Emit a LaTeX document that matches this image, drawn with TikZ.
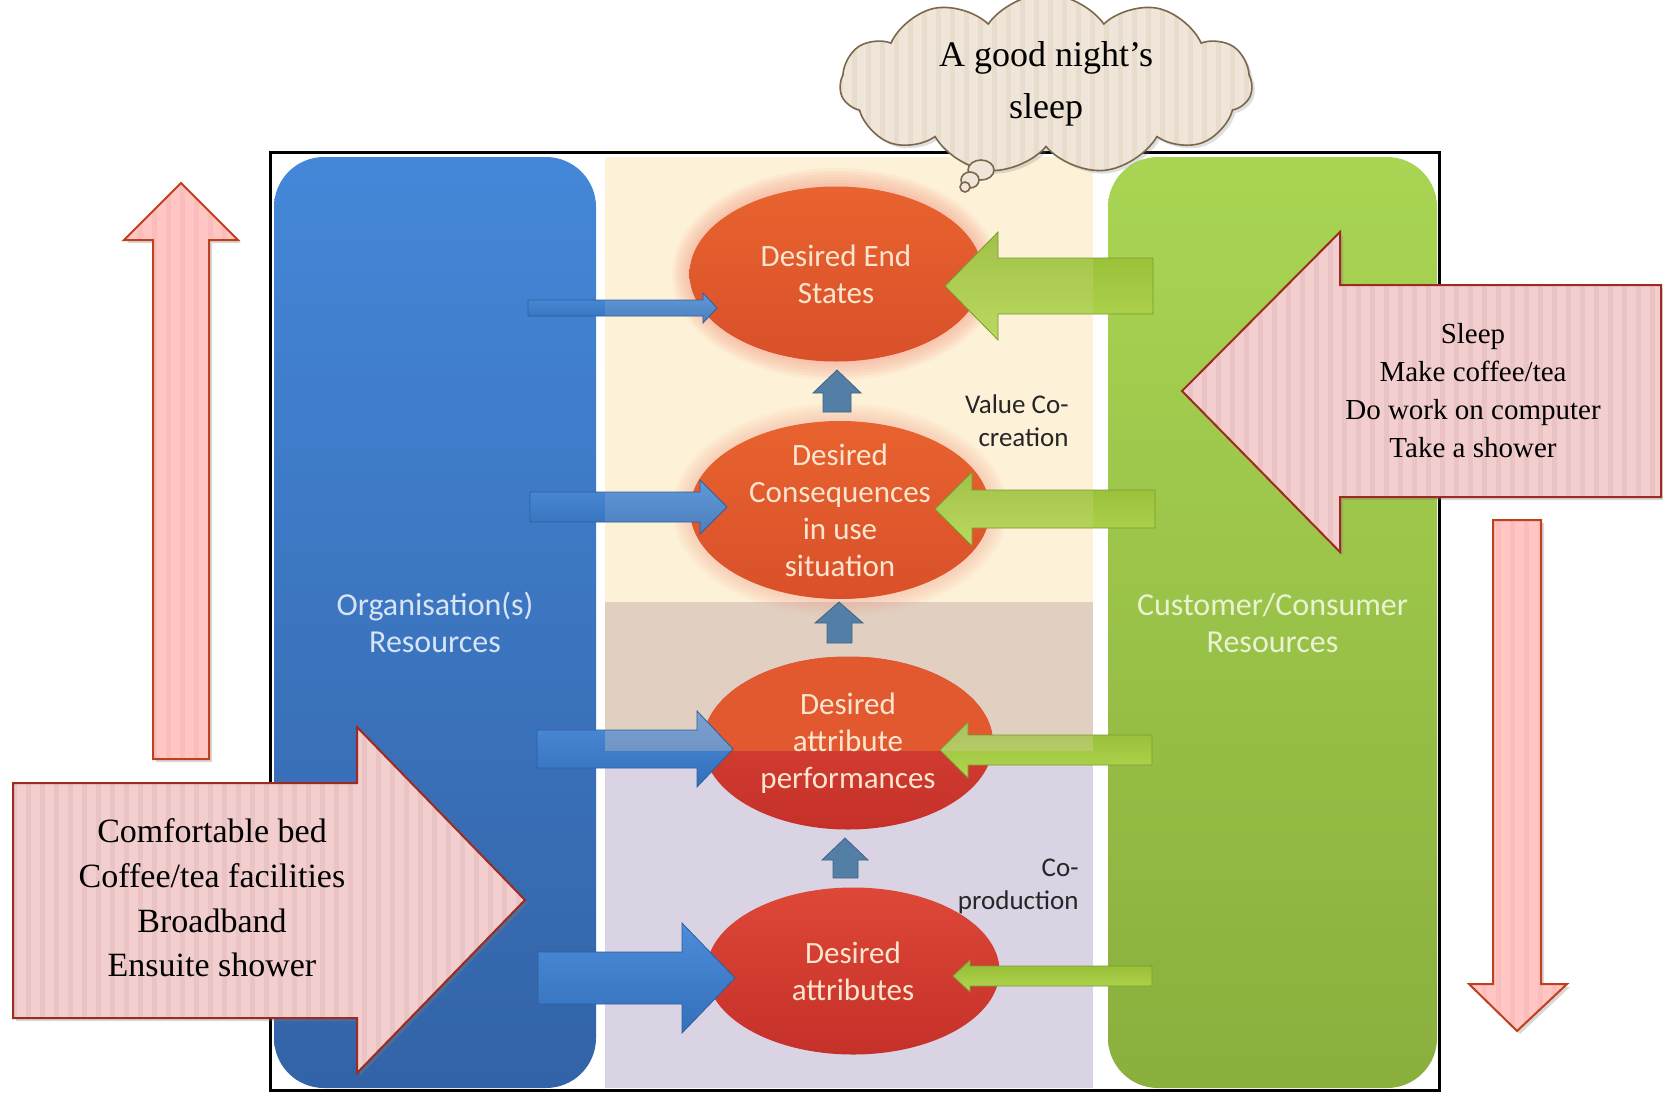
\documentclass[tikz,border=0pt]{standalone}
\usepackage{fontspec}
\setmainfont{Liberation Serif}
\newfontfamily\calibri{Carlito}
\usetikzlibrary{shapes.geometric,shapes.symbols,shadows,patterns.meta}

\definecolor{orgtop}{HTML}{4487D8}
\definecolor{orgbot}{HTML}{3363A7}
\definecolor{custtop}{HTML}{A9D553}
\definecolor{custbot}{HTML}{8AAF3D}
\definecolor{creamc}{HTML}{FDF2D8}
\definecolor{tanc}{HTML}{E1D0C1}
\definecolor{lavc}{HTML}{DAD3E4}
\definecolor{goalorg}{HTML}{E2582F}
\definecolor{goalhitop}{HTML}{E8632F}
\definecolor{goalhibot}{HTML}{D9502A}
\definecolor{goallotop}{HTML}{DE4838}
\definecolor{goallobot}{HTML}{C53029}
\definecolor{glowc}{HTML}{F2907A}
\definecolor{goaltext}{HTML}{FCE5CF}
\definecolor{barrtop}{HTML}{4C8CD9}
\definecolor{barrbot}{HTML}{3470BA}
\definecolor{barredge}{HTML}{2C5F9E}
\definecolor{garrtop}{HTML}{94BB34}
\definecolor{garrbot}{HTML}{B2D650}
\definecolor{garredge}{HTML}{7A9B2E}
\definecolor{stemblue}{HTML}{537EA6}
\definecolor{pinkfill}{HTML}{F2CFCE}
\definecolor{pinkline}{HTML}{EAC4C4}
\definecolor{pinkedge}{HTML}{9E2B1F}
\definecolor{rosefill}{HTML}{FFC6C4}
\definecolor{roseline}{HTML}{FABDBB}
\definecolor{roseedge}{HTML}{C0401D}
\definecolor{cloudfill}{HTML}{EFE5D8}
\definecolor{cloudline}{HTML}{E8DCCD}
\definecolor{cloudedge}{HTML}{7B674C}
\definecolor{orgtext}{HTML}{D6E4F6}
\definecolor{custtext}{HTML}{E8F3D3}

\begin{document}
\begin{tikzpicture}[x=0.5pt,y=-0.5pt,
  col/.style={rectangle,rounded corners=25pt,inner sep=0pt,minimum height=465.5pt,align=center,font=\calibri\fontsize{16}{18.5}\selectfont},
  goal/.style={ellipse,inner xsep=0pt,inner ysep=-12pt,align=center,text=goaltext,font=\calibri\fontsize{15.5}{18.5}\selectfont},
  goalhi/.style={goal,top color=goalhitop,bottom color=goalhibot},
  goallo/.style={goal,top color=goallotop,bottom color=goallobot},
  tint/.style={path picture={\fill[creamc,opacity=.12] (605,157) rectangle (1093,602);
    \fill[tanc,opacity=.3] (605,602) rectangle (1093,751);}},
  barr/.style={top color=barrtop,bottom color=barrbot,draw=barredge,line width=.4pt,tint},
  garr/.style={top color=garrtop,bottom color=garrbot,draw=garredge,line width=.4pt,tint},
  stem/.style={fill=stemblue,draw=stemblue!80!black,line width=.4pt},
  zone/.style={font=\calibri\fontsize{13.5}{16.5}\selectfont,text=black!85,align=right,anchor=east,inner sep=0pt},
  bigarr/.style={draw=pinkedge,line width=1pt,drop shadow={opacity=.3,shadow xshift=1.5pt,shadow yshift=-1.5pt},
    preaction={fill=pinkfill},pattern={Lines[angle=90,distance=7pt,line width=2.5pt]},pattern color=pinkline},
  thinarr/.style={draw=roseedge,line width=1pt,drop shadow={opacity=.3,shadow xshift=1.5pt,shadow yshift=-1.5pt},
    preaction={fill=rosefill},pattern={Lines[angle=90,distance=7pt,line width=2.5pt]},pattern color=roseline},
  list/.style={align=center,font=\fontsize{17}{22.3}\selectfont,inner sep=0pt},
  puff/.style={draw=cloudedge,line width=.8pt,fill=cloudfill}]
\useasboundingbox[fill=white] (0,0) rectangle (1663,1092);
% frame and the three bands
\draw[line width=1.5pt,fill=white] (270,152) rectangle (1439,1090);
\fill[creamc] (605,157) rectangle (1093,602);
\fill[tanc] (605,602) rectangle (1093,751);
\fill[lavc] (605,751) rectangle (1093,1088);
% resource columns
\node[col,minimum width=161pt,top color=orgtop,bottom color=orgbot,text=orgtext] (org) at (435,622.5) {Organisation(s)\\Resources};
\node[col,minimum width=164.5pt,top color=custtop,bottom color=custbot,text=custtext] (cust) at (1272.5,622.5) {Customer/Consumer\\Resources};
% soft glow behind the upper goals
\foreach \g in {18,15,12,9,6,3} {
  \fill[glowc,opacity=.09] (836,274) ellipse [x radius=146+\g,y radius=88+\g];
  \fill[glowc,opacity=.06] (840,510) ellipse [x radius=150+\g,y radius=89+\g];
}
% goal hierarchy
\node[goalhi,minimum width=146.5pt,minimum height=87.5pt] (end) at (836,274) {Desired End\\States};
\node[goalhi,minimum width=150pt,minimum height=89pt] (cons) at (840,510) {Desired\\Consequences\\in use\\situation};
\node[goallo,minimum width=145pt,minimum height=86.5pt,
  path picture={\fill[goalorg] (path picture bounding box.north west) rectangle ([yshift=-4pt]path picture bounding box.east);}]
  (perf) at (848,743) {Desired\\attribute\\performances};
\node[goallo,minimum width=146.5pt,minimum height=83.5pt] (attr) at (853,971) {Desired\\attributes};
% small up arrows
\draw[stem] (823,412) -- (823,393) -- (813,393) -- (837,370) -- (861,393) -- (851,393) -- (851,412) -- cycle;
\draw[stem] (827,643) -- (827,623) -- (815,623) -- (839,602) -- (863,623) -- (852,623) -- (852,643) -- cycle;
\draw[stem] (833,878) -- (833,860) -- (822,860) -- (845,838) -- (868,860) -- (858,860) -- (858,878) -- cycle;
% organisation inputs
\draw[barr] (528,300) -- (703,300) -- (703,293) -- (717,308) -- (703,323) -- (703,316) -- (528,316) -- cycle;
\draw[barr] (530,492) -- (700,492) -- (700,480) -- (727,507) -- (700,534) -- (700,522) -- (530,522) -- cycle;
\draw[barr] (537,730) -- (697,730) -- (697,711) -- (733,749) -- (697,787) -- (697,768) -- (537,768) -- cycle;
\draw[barr] (538,952) -- (682,952) -- (682,923) -- (735,978) -- (682,1033) -- (682,1004) -- (538,1004) -- cycle;
% customer inputs
\draw[garr] (1153,258) -- (998,258) -- (998,232) -- (945,286) -- (998,340) -- (998,314) -- (1153,314) -- cycle;
\draw[garr] (1155,490) -- (972,490) -- (972,472) -- (935,509) -- (972,546) -- (972,528) -- (1155,528) -- cycle;
\draw[garr] (1152,735) -- (968,735) -- (968,722) -- (940,750) -- (968,778) -- (968,765) -- (1152,765) -- cycle;
\draw[garr] (1152,966) -- (970,966) -- (970,960) -- (953,976) -- (970,992) -- (970,986) -- (1152,986) -- cycle;
\node[zone] (vcc) at (1069,421) {Value Co-\\creation};
\node[zone] (cop) at (1079,886) {Co-\\production};
% thought bubble
\node[cloud,cloud puffs=11,cloud puff arc=110,cloud ignores aspect,minimum width=206pt,minimum height=70pt,
  draw=cloudedge,line width=.8pt,drop shadow={opacity=.25,shadow xshift=1.5pt,shadow yshift=-1.5pt},
  preaction={fill=cloudfill},pattern={Lines[angle=90,distance=7pt,line width=2.5pt]},pattern color=cloudline,
  align=center,font=\fontsize{18}{26}\selectfont] (wish) at (1046,84) {A good night’s\\sleep};
\draw[puff] (981,170) ellipse [x radius=13,y radius=10];
\draw[puff] (970,180) ellipse [x radius=9,y radius=8];
\draw[puff] (965,187) circle [radius=5];
% pink arrows
\draw[thinarr] (153,759) -- (153,240) -- (124,240) -- (181,183) -- (238,240) -- (209,240) -- (209,759) -- cycle;
\draw[thinarr] (1493,520) -- (1541,520) -- (1541,984) -- (1567,984) -- (1517,1031) -- (1469,984) -- (1493,984) -- cycle;
\draw[bigarr] (13,783) -- (357,783) -- (357,727) -- (525,900) -- (357,1073) -- (357,1018) -- (13,1018) -- cycle;
\node[list] (offer) at (212,898) {Comfortable bed\\Coffee/tea facilities\\Broadband\\Ensuite shower};
\draw[bigarr] (1661,285) -- (1340,285) -- (1340,232) -- (1182,391) -- (1340,552) -- (1340,497) -- (1661,497) -- cycle;
\node[list,font=\fontsize{14.5}{19}\selectfont] (use) at (1473,391) {Sleep\\Make coffee/tea\\Do work on computer\\Take a shower};
\end{tikzpicture}
\end{document}
